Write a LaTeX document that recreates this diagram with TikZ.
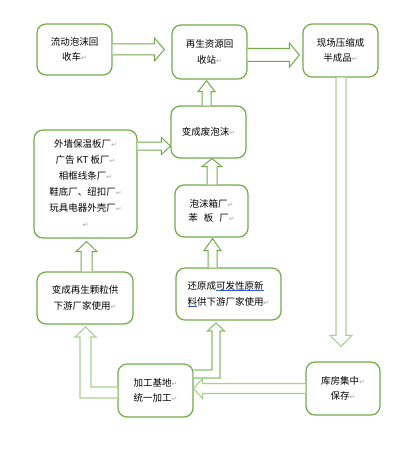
\documentclass[tikz,border=0pt]{standalone}
\usepackage{fontspec}
\usetikzlibrary{calc}
\setmainfont{Noto Sans CJK SC}
\newfontfamily\dvfont{DejaVu Sans}
\definecolor{gdark}{RGB}{112,173,71}
\definecolor{glight}{RGB}{169,209,142}
\definecolor{gmid}{RGB}{140,192,106}
\definecolor{ulblue}{RGB}{50,90,215}
\newcommand\rmk{{\dvfont\fontsize{7}{7}\selectfont\textcolor{black!35}{↵}}}
\newsavebox\myulbox
\newcommand\blueul[1]{\sbox\myulbox{#1}\rlap{\textcolor{ulblue}{\rule[-0.32ex]{\wd\myulbox}{0.7pt}}}\usebox\myulbox}
% block arrow: #1 start, #2 tip, #3 shaft half width, #4 head half width, #5 head length, #6 style
\newcommand\barrow[6]{%
  \coordinate (bs) at #1;
  \coordinate (bt) at #2;
  \coordinate (bh) at ($(bt)!#5!(bs)$);
  \draw[#6] ($(bs)!#3!90:(bt)$) -- ($(bh)!#3!-90:(bs)$) -- ($(bh)!#4!-90:(bs)$) -- (bt)
     -- ($(bh)!#4!90:(bs)$) -- ($(bh)!#3!90:(bs)$) -- ($(bs)!#3!-90:(bt)$);
}
\begin{document}
\begin{tikzpicture}[x=1pt,y=-1pt,
  box/.style={draw=gdark, line width=1.2pt, rounded corners=9pt, fill=white,
    inner sep=0pt, align=center, font=\fontsize{9.5}{15.5}\selectfont},
  darr/.style={draw=gdark, line width=1pt, fill=white, line join=miter},
  larr/.style={draw=glight, line width=1.1pt, fill=white, line join=miter},
  marr/.style={draw=gmid, line width=1.1pt, fill=white, line join=miter}]
\fill[white] (0,0) rectangle (407,452);
\useasboundingbox (0,0) rectangle (407,452);

\node[box, minimum width=75pt, minimum height=51pt] (b1) at (74.5,49.5) {流动泡沫回\\收车\rmk};
\node[box, minimum width=75pt, minimum height=54pt] (b2) at (209.5,52) {再生资源回\\收站\rmk};
\node[box, minimum width=75pt, minimum height=53pt] (b3) at (340.5,50.5) {现场压缩成\\半成品\rmk};
\node[box, minimum width=103pt, minimum height=108pt, font=\fontsize{9.5}{16}\selectfont] (b4) at (85.5,184)
  {外墙保温板厂\rmk\\广告 KT 板厂\rmk\\相框线条厂\rmk\\鞋底厂、纽扣厂\rmk\\玩具电器外壳厂\rmk\\\rmk};
\node[box, minimum width=75pt, minimum height=52pt] (b5) at (208.5,132) {变成废泡沫\rmk};
\node[box, minimum width=73pt, minimum height=52pt, font=\fontsize{9.5}{14.5}\selectfont] (b6) at (211.5,211) {泡沫箱厂\rmk\\苯\hspace{6pt}板\hspace{6pt}厂\rmk};
\node[box, minimum width=96pt, minimum height=52pt] (b7) at (85,298) {变成再生颗粒供\\下游厂家使用\rmk};
\node[box, minimum width=105pt, minimum height=52pt, align=left, font=\fontsize{9.5}{16}\selectfont] (b8) at (228.5,294)
  {还原成\blueul{可发性原新}\\\blueul{料}供下游厂家使用\rmk};
\node[box, minimum width=75pt, minimum height=53pt] (b9) at (155.5,390.5) {加工基地\rmk\\统一加工\rmk};
\node[box, minimum width=74pt, minimum height=53pt] (b10) at (343,388.5) {库房集中\rmk\\保存\rmk};

% straight block arrows
\barrow{(b1.east)}{($(b1.east -| b2.west)+(-7,0)$)}{5.5pt}{11.5pt}{10pt}{darr}
\barrow{($(b2.east)+(0,3)$)}{($(b2.east -| b3.west)+(-3,3)$)}{6.5pt}{12pt}{10pt}{darr}
\barrow{($(b3.south)+(0.5,0)$)}{($(b3.south |- b10.north)+(0.5,-15)$)}{5pt}{11pt}{11pt}{larr}
\barrow{(b10.west)}{(b10.west -| b9.east)}{5pt}{10pt}{9pt}{larr}
\barrow{($(b7.north)+(1.5,0)$)}{($(b7.north |- b4.south)+(1.5,3)$)}{5.5pt}{10.5pt}{10pt}{darr}
\barrow{(b4.east |- 0,146)}{(b5.west |- 0,146)}{4pt}{8.5pt}{9pt}{darr}
\barrow{($(b6.north)+(0.5,0)$)}{($(b6.north |- b5.south)+(0.5,0)$)}{5pt}{10pt}{8pt}{darr}
\barrow{($(b5.north)+(-2,0)$)}{($(b5.north |- b2.south)+(-2,1)$)}{4.5pt}{8.5pt}{11pt}{darr}
\barrow{($(b8.north)+(-16,0)$)}{($(b8.north |- b6.south)+(-16,1)$)}{4.5pt}{8.5pt}{12pt}{darr}

% elbow arrows
\draw[marr] (b9.east |- 0,370) -- (212,370) -- (212,331) -- (207.5,331) -- (216,323) -- (224.5,331) -- (220,331) -- (220,378) -- (b9.east |- 0,378);
\draw[larr] (b9.west |- 0,387) -- (91,387) -- (91,337) -- (96,337) -- (85.5,327) -- (75,337) -- (80,337) -- (80,398) -- (b9.west |- 0,398);
\end{tikzpicture}
\end{document}
